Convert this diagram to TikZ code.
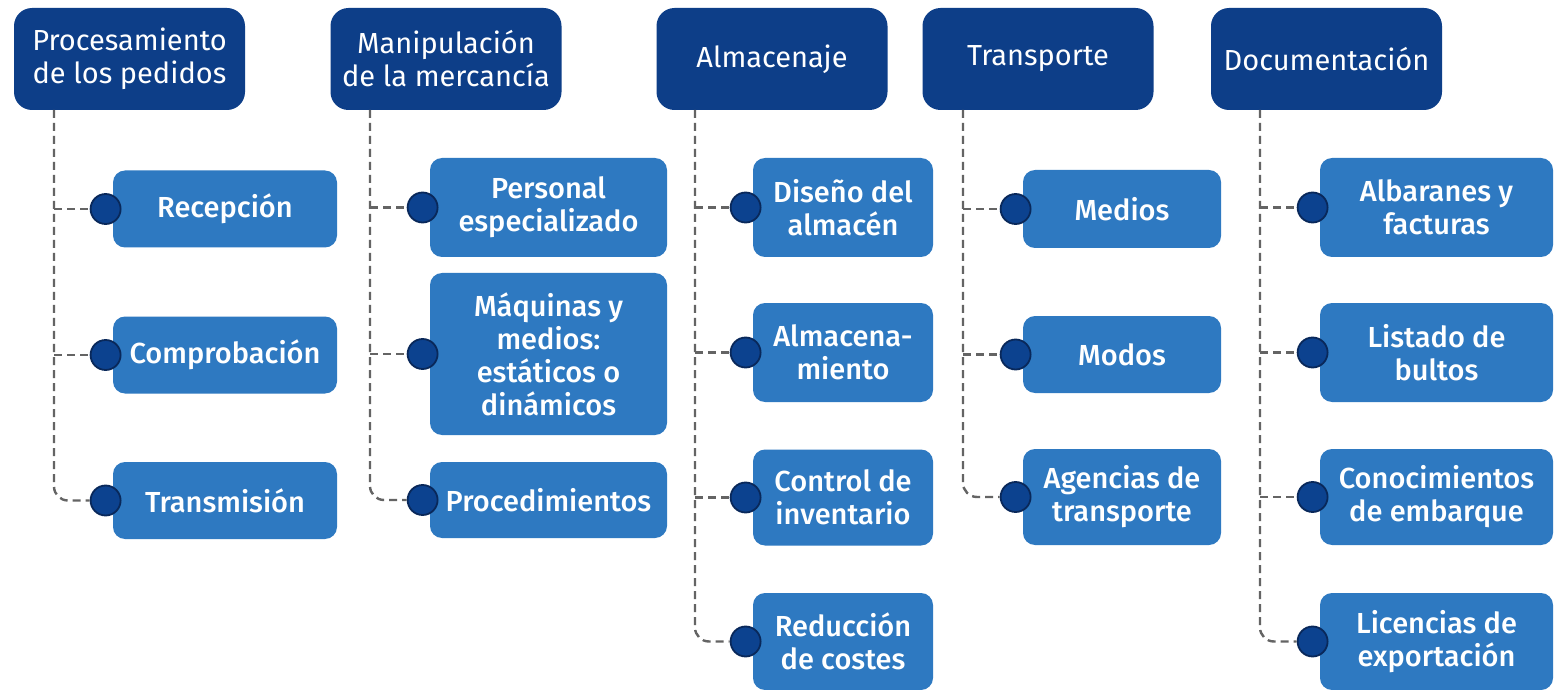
\documentclass[tikz,border=0pt]{standalone}
\usepackage{fontspec}
\setmainfont{Fira Sans}
\newfontfamily\medfont{Fira Sans Medium}
\usetikzlibrary{calc}

\definecolor{headblue}{RGB}{13,62,136}
\definecolor{itemblue}{RGB}{46,121,193}
\definecolor{dotblue}{RGB}{12,66,143}
\definecolor{dotrim}{RGB}{9,40,90}
\definecolor{linegray}{RGB}{100,100,100}

\tikzset{
  headbox/.style={fill=headblue, rounded corners=9pt, text=white, align=center,
    minimum width=115.5pt, minimum height=51pt, inner sep=0pt,
    font=\fontsize{14.5}{16.5}\selectfont},
  itembox/.style={fill=itemblue, rounded corners=6pt, text=white, align=center,
    inner sep=0pt, font=\medfont\fontsize{14.5}{16.5}\selectfont},
  itemdot/.style={circle, fill=dotblue, draw=dotrim, line width=0.9pt,
    minimum size=15pt, inner sep=0pt},
  branch/.style={draw=linegray, line width=1.2pt, dash pattern=on 4pt off 2.5pt},
}

\begin{document}
\begin{tikzpicture}[x=0.5pt,y=0.5pt,yscale=-1,xscale=1]
\useasboundingbox[fill=white] (0,0) rectangle (1555,690);

% Headers
\node[headbox] (h1) at (129.5,59) {Procesamiento\\de los pedidos};
\node[headbox] (h2) at (446,59) {Manipulación\\de la mercancía};
\node[headbox] (h3) at (772,59) {Almacenaje};
\node[headbox] (h4) at (1038,59) {Transporte};
\node[headbox] (h5) at (1326.5,59) {Documentación};

% Column 1
\node[itembox, minimum width=112pt, minimum height=38.5pt] (c11) at (225,209) {Recepción};
\node[itembox, minimum width=112pt, minimum height=38.5pt] (c12) at (225,355) {Comprobación};
\node[itembox, minimum width=112pt, minimum height=38.5pt] (c13) at (225,500.5) {Transmisión};

% Column 2
\node[itembox, minimum width=118.5pt, minimum height=49.5pt] (c21) at (548.5,207.5) {Personal\\especializado};
\node[itembox, minimum width=118.5pt, minimum height=81pt] (c22) at (548.5,354) {Máquinas y\\medios:\\estáticos o\\dinámicos};
\node[itembox, minimum width=118.5pt, minimum height=38pt] (c23) at (548.5,500) {Procedimientos};

% Column 3
\node[itembox, minimum width=90pt, minimum height=49.5pt] (c31) at (843,207.5) {Diseño del\\almacén};
\node[itembox, minimum width=90pt, minimum height=49.5pt] (c32) at (843,352.5) {Almacena-\\miento};
\node[itembox, minimum width=90pt, minimum height=48pt] (c33) at (843,497.5) {Control de\\inventario};
\node[itembox, minimum width=90pt, minimum height=48.5pt] (c34) at (843,641.5) {Reducción\\de costes};

% Column 4
\node[itembox, minimum width=99pt, minimum height=39pt] (c41) at (1122,209) {Medios};
\node[itembox, minimum width=99pt, minimum height=38.5pt] (c42) at (1122,354.5) {Modos};
\node[itembox, minimum width=99pt, minimum height=48pt] (c43) at (1122,497) {Agencias de\\transporte};

% Column 5
\node[itembox, minimum width=116.5pt, minimum height=49.5pt] (c51) at (1436.5,207.5) {Albaranes y\\facturas};
\node[itembox, minimum width=116.5pt, minimum height=49.5pt] (c52) at (1436.5,352.5) {Listado de\\bultos};
\node[itembox, minimum width=116.5pt, minimum height=48pt] (c53) at (1436.5,497) {Conocimientos\\de embarque};
\node[itembox, minimum width=116.5pt, minimum height=48.5pt] (c54) at (1436.5,641.5) {Licencias de\\exportación};

% Dots
\foreach \c in {11,12,13,21,22,23,31,32,33,34,41,42,43,51,52,53,54}
  \node[itemdot] (d\c) at ([xshift=-3.5pt]c\c.west) {};

% Trunk lines
\coordinate (v1) at (54,110);
\coordinate (v2) at (370,110);
\coordinate (v3) at (695,110);
\coordinate (v4) at (963,110);
\coordinate (v5) at (1260,110);

\draw[branch, rounded corners=7pt] (v1) |- (d13.west);
\draw[branch] (v1 |- d11.west) -- (d11.west);
\draw[branch] (v1 |- d12.west) -- (d12.west);

\draw[branch, rounded corners=7pt] (v2) |- (d23.west);
\draw[branch] (v2 |- d21.west) -- (d21.west);
\draw[branch] (v2 |- d22.west) -- (d22.west);

\draw[branch, rounded corners=7pt] (v3) |- (d34.west);
\draw[branch] (v3 |- d31.west) -- (d31.west);
\draw[branch] (v3 |- d32.west) -- (d32.west);
\draw[branch] (v3 |- d33.west) -- (d33.west);

\draw[branch, rounded corners=7pt] (v4) |- (d43.west);
\draw[branch] (v4 |- d41.west) -- (d41.west);
\draw[branch] (v4 |- d42.west) -- (d42.west);

\draw[branch, rounded corners=7pt] (v5) |- (d54.west);
\draw[branch] (v5 |- d51.west) -- (d51.west);
\draw[branch] (v5 |- d52.west) -- (d52.west);
\draw[branch] (v5 |- d53.west) -- (d53.west);

\end{tikzpicture}
\end{document}
